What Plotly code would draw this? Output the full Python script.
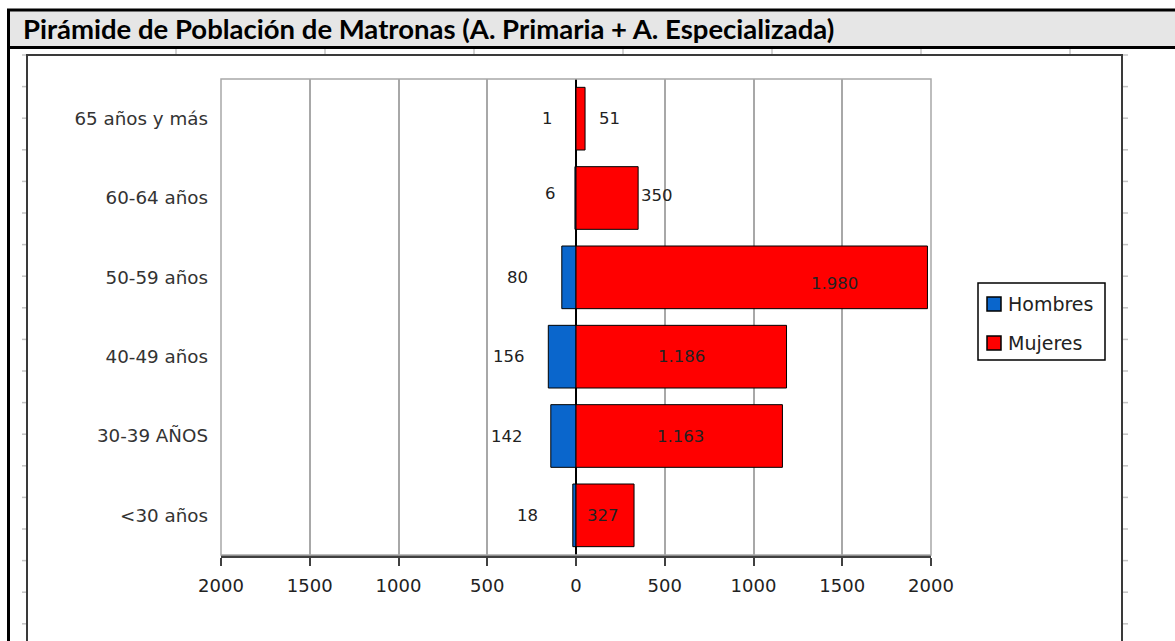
import plotly.graph_objects as go

# Age groups, listed from top to bottom of the pyramid
grupos = ["65 años y más", "60-64 años", "50-59 años", "40-49 años", "30-39 AÑOS", "<30 años"]
hombres = [1, 6, 80, 156, 142, 18]
mujeres = [51, 350, 1980, 1186, 1163, 327]
etiquetas_hombres = ["1", "6", "80", "156", "142", "18"]
etiquetas_mujeres = ["51", "350", "1.980", "1.186", "1.163", "327"]

tick_vals = [-2000, -1500, -1000, -500, 0, 500, 1000, 1500, 2000]
tick_text = ["2000", "1500", "1000", "500", "0", "500", "1000", "1500", "2000"]

# where each value label sits along the x axis, and its vertical nudge in px
pos_lbl_h = [-163, -141, -332, -377, -389, -276]
pos_lbl_m = [186, 456, 1459, 592, 586, 152]
shift_lbl_h = [0, 5, 0, 0, 0, 0]
shift_lbl_m = [0, 3, -6, 0, 0, 0]

W, H = 1175, 641
L, R, T, B = 221, 931, 79, 555

AZUL = "#0a66cc"
ROJO = "#ff0000"
FONT = "DejaVu Sans, sans-serif"


def px(x):
    return (x - L) / (R - L)


def py(y):
    return (B - y) / (B - T)


fig = go.Figure()
fig.add_trace(go.Bar(
    y=grupos, x=[-v for v in hombres], orientation="h", name="Hombres",
    marker=dict(color=AZUL, line=dict(color="black", width=1)),
    hoverinfo="skip", showlegend=False,
))
fig.add_trace(go.Bar(
    y=grupos, x=mujeres, orientation="h", name="Mujeres",
    marker=dict(color=ROJO, line=dict(color="black", width=1)),
    hoverinfo="skip", showlegend=False,
))

annotations = []
for g, t, xp, s in zip(grupos, etiquetas_hombres, pos_lbl_h, shift_lbl_h):
    annotations.append(dict(x=xp, y=g, xref="x", yref="y", text=t, showarrow=False,
                            yshift=s, font=dict(family=FONT, size=16.5, color="#222")))
for g, t, xp, s in zip(grupos, etiquetas_mujeres, pos_lbl_m, shift_lbl_m):
    annotations.append(dict(x=xp, y=g, xref="x", yref="y", text=t, showarrow=False,
                            yshift=s, font=dict(family=FONT, size=16.5, color="#222")))

# title bar text
annotations.append(dict(
    x=px(21), y=py(29), xref="paper", yref="paper", xanchor="left", yanchor="middle",
    text="<b>Pirámide de Población de Matronas (A. Primaria + A. Especializada)</b>",
    showarrow=False, font=dict(family="Lato, sans-serif", size=27.5, color="black"),
))

# legend entries
for nombre, yc in [("Hombres", 304), ("Mujeres", 343)]:
    annotations.append(dict(
        x=px(1006), y=py(yc), xref="paper", yref="paper", xanchor="left", yanchor="middle",
        text=nombre, showarrow=False, font=dict(family=FONT, size=19, color="#222"),
    ))

shapes = []


def rect(x0, y0, x1, y1, **kw):
    shapes.append(dict(type="rect", xref="paper", yref="paper",
                       x0=px(x0), x1=px(x1), y0=py(y0), y1=py(y1), layer="above", **kw))


def line(x0, y0, x1, y1, color, width):
    shapes.append(dict(type="line", xref="paper", yref="paper",
                       x0=px(x0), x1=px(x1), y0=py(y0), y1=py(y1), layer="above",
                       line=dict(color=color, width=width)))


# title band with heavy black rules
rect(9, 10, 1180, 46, fillcolor="#e6e6e6", line=dict(width=0))
line(7, 10, 1180, 10, "black", 3)
line(7, 47.5, 1180, 47.5, "black", 3)
line(8.5, 9, 8.5, 650, "black", 3)

# sheet cell stubs around the chart frame
for k in range(1, 8):
    xs = 27 + 149 * k
    line(xs, 49, xs, 55, "#c4c4c4", 1.5)
for k in range(0, 19):
    ys = 55 + 31.6 * k
    line(22, ys, 27, ys, "#c4c4c4", 1.5)
    line(1122, ys, 1128, ys, "#c4c4c4", 1.5)

# chart frame
rect(27, 55, 1122, 660, line=dict(color="#3a3a3a", width=2))

# plot area outline
rect(L, T, R, B, line=dict(color="#a8a8a8", width=1.5))

# legend box and swatches
rect(978, 283, 1105, 360, line=dict(color="black", width=1.5), fillcolor="rgba(0,0,0,0)")
rect(987, 297, 1001, 311, fillcolor=AZUL, line=dict(color="black", width=1.5))
rect(987, 336, 1001, 350, fillcolor=ROJO, line=dict(color="black", width=1.5))

fig.update_layout(
    width=W, height=H,
    margin=dict(l=L, r=W - R, t=T, b=H - B, pad=0),
    paper_bgcolor="white", plot_bgcolor="white",
    barmode="relative", bargap=0.21,
    annotations=annotations, shapes=shapes,
    font=dict(family=FONT, color="#222"),
)
fig.update_xaxes(
    range=[-2000, 2000], tickvals=tick_vals, ticktext=tick_text,
    showgrid=True, gridcolor="#a8a8a8", gridwidth=1.5,
    zeroline=True, zerolinecolor="black", zerolinewidth=1.5,
    showline=True, linecolor="#404040", linewidth=2.5,
    ticks="outside", ticklen=8, tickwidth=2, tickcolor="#404040",
    tickfont=dict(family=FONT, size=18, color="#222"), ticklabelstandoff=5,
    fixedrange=True,
)
fig.update_yaxes(
    autorange="reversed", showgrid=False, zeroline=False, showline=False,
    ticks="", tickfont=dict(family=FONT, size=18.3, color="#333"), ticklabelstandoff=12,
    fixedrange=True,
)

fig.write_html("out.html", config={"displayModeBar": False})
